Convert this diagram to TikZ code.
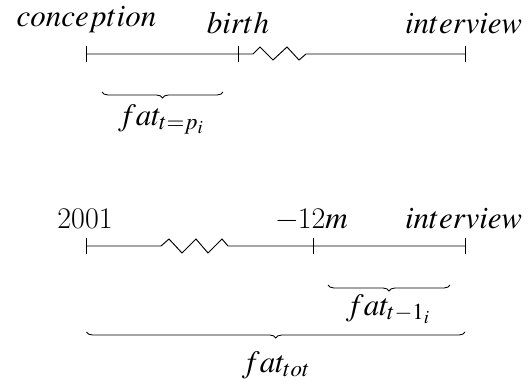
\documentclass[tikz,border=0pt]{standalone}
\usepackage{mathptmx}
\usetikzlibrary{decorations.pathreplacing,calc}
\newcommand{\lbl}[1]{{\fontsize{31}{35}\selectfont$#1$}}
\newcommand{\cmtxt}[1]{{\fontfamily{lmr}\fontsize{30}{34}\selectfont #1}}
\begin{document}
\begin{tikzpicture}[x=1pt,y=-1pt,
  tl/.style={line width=0.95pt},
  tickmark/.style={line width=1pt},
  br/.style={decorate,decoration={brace,mirror,amplitude=6pt},line width=0.85pt},
  txt/.style={inner sep=0pt,anchor=base}]
\useasboundingbox (0,0) rectangle (530,388);
% upper timeline
\coordinate (a1) at (86.5,54);
\coordinate (b1) at (238,54);
\coordinate (c1) at (465,54);
\coordinate (z1s) at (253,54);
\coordinate (z1e) at (306,54);
\draw[tl] (a1) -- (b1) -- (z1s) -- (260,47) -- (273,60) -- (287,47) -- (299,60) -- (z1e) -- (c1);
\foreach \p in {a1,b1,c1} \draw[tickmark] ($(\p)+(0,-8)$) -- ($(\p)+(0,8)$);
\node[txt] (conc) at (86.5,27) {\lbl{conception}};
\node[txt] (birth) at (238,33) {\lbl{birth}};
\node[txt] (int1) at (463.5,33) {\lbl{interview}};
% brace 1
\coordinate (br1a) at (102,92);
\coordinate (br1b) at (223,92);
\draw[br] (br1a) -- (br1b);
\node[txt] (f1) at (161,125) {\lbl{fat_{t=p_i}}};
% lower timeline
\coordinate (a2) at (86.5,246);
\coordinate (b2) at (313,246);
\coordinate (c2) at (465,246);
\coordinate (z2s) at (161,246);
\coordinate (z2e) at (228,246);
\draw[tl] (a2) -- (z2s) -- (169,239) -- (182,253) -- (196,239) -- (208,253) -- (222,239) -- (z2e) -- (b2) -- (c2);
\foreach \p in {a2,b2,c2} \draw[tickmark] ($(\p)+(0,-8)$) -- ($(\p)+(0,8)$);
\node[txt] (y2001) at (85,228) {\cmtxt{2001}};
\node[txt] (m12) at (312,228) {\cmtxt{\textminus 12}\lbl{m}};
\node[txt] (int2) at (463.5,228) {\lbl{interview}};
% brace 2
\coordinate (br2a) at (328,285);
\coordinate (br2b) at (450,285);
\draw[br] (br2a) -- (br2b);
\node[txt] (f2) at (388,315) {\lbl{fat_{t-1_i}}};
% brace 3
\coordinate (br3a) at (86.5,332);
\coordinate (br3b) at (465,332);
\draw[br] (br3a) -- (br3b);
\node[txt] (f3) at (276,372) {\lbl{fat_{tot}}};
\end{tikzpicture}
\end{document}
